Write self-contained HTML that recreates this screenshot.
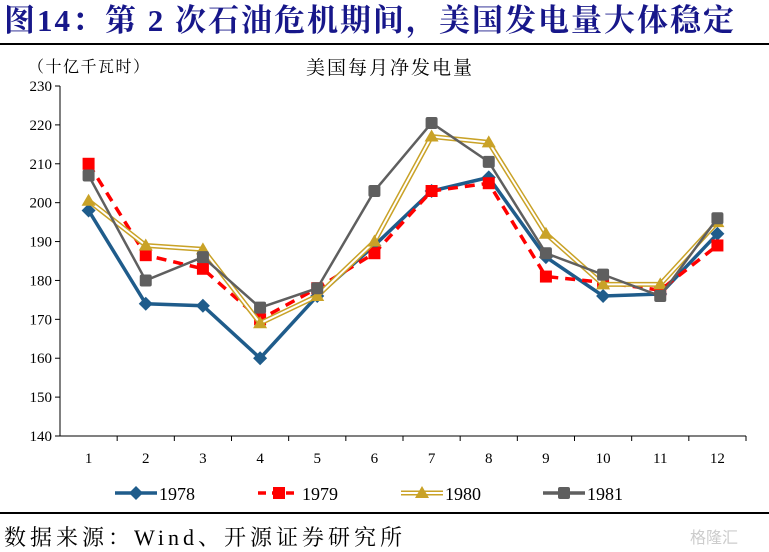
<!DOCTYPE html>
<html><head><meta charset="utf-8"><style>
body{margin:0;width:769px;height:552px;background:#fff;overflow:hidden;font-family:"Liberation Serif","Noto Serif CJK SC",serif;}
svg{position:absolute;left:0;top:0}
</style></head><body>
<svg id="chart" width="769" height="552" xmlns="http://www.w3.org/2000/svg">
<text x="4" y="31" font-size="31" font-weight="bold" fill="#17178a" letter-spacing="2" font-family="Liberation Serif,Noto Serif CJK SC,serif">图14：第 2 次石油危机期间，美国发电量大体稳定</text>
<line x1="0" y1="44" x2="769" y2="44" stroke="#000" stroke-width="2"/>
<text x="28" y="72" font-size="16" letter-spacing="1.5" fill="#000">（十亿千瓦时）</text>
<text x="390" y="74" font-size="19" letter-spacing="2" fill="#000" text-anchor="middle">美国每月净发电量</text>
<g id="plot"></g>
<line x1="0" y1="513" x2="769" y2="513" stroke="#000" stroke-width="2"/>
<text x="4" y="545" font-size="22" letter-spacing="4" fill="#000">数据来源：Wind、开源证券研究所</text>
<text x="690" y="543" font-size="16" fill="#ccc" font-family="Liberation Sans,Noto Sans CJK SC,sans-serif">格隆汇</text>
</svg>
<script>
const categories=["1","2","3","4","5","6","7","8","9","10","11","12"];
const yTicks=[140,150,160,170,180,190,200,210,220,230];
const s1978=[198,174,173.5,160,176,189,203,206.5,186,176,176.5,192];
const s1979=[210,186.5,183,170,178,187,203,205,181,179.5,177.5,189];
const s1980=[200.5,189,188,169,176,190,217,215.5,192,179,179,195];
const s1981=[207,180,186,173,178,203,220.5,210.5,187,181.5,176,196];
const seriesNames=["1978","1979","1980","1981"];
const NS="http://www.w3.org/2000/svg";
const g=document.getElementById('plot');
const L=60,R=746,T=86,B=436,ymin=140,ymax=230;
const bw=(R-L)/categories.length;
const X=i=>L+bw*(i+0.5);
const Y=v=>B-(v-ymin)/(ymax-ymin)*(B-T);
function mk(t,a){const e=document.createElementNS(NS,t);for(const k in a)e.setAttribute(k,a[k]);g.appendChild(e);return e;}
let ax=mk('line',{x1:L,y1:T,x2:L,y2:B,stroke:'#000','stroke-width':1});


let xa=mk('line',{x1:L,y1:B,x2:R,y2:B,stroke:'#000','stroke-width':1});


yTicks.forEach(v=>{
 let t=mk('line',{x1:L-5,y1:Y(v),x2:L,y2:Y(v),stroke:'#000'});
 
 
 let tx=mk('text',{x:L-8,y:Y(v)+5,'font-size':15,'text-anchor':'end'});
 tx.textContent=v;
 
 
});
categories.forEach((c,i)=>{
 let t=mk('line',{x1:L+bw*(i+1),y1:B,x2:L+bw*(i+1),y2:B+5,stroke:'#000'});
 
 
 let tx=mk('text',{x:X(i),y:B+27,'font-size':15,'text-anchor':'middle'});
 tx.textContent=c;
 
 
});
function pts(d){return d.map((v,i)=>X(i)+','+Y(v)).join(' ');}
function marker(type,x,y,color){
 let e;
 if(type==='diamond')e=mk('polygon',{points:`${x},${y-7} ${x+7},${y} ${x},${y+7} ${x-7},${y}`,fill:color});
 else if(type==='sq')e=mk('rect',{x:x-6,y:y-6,width:12,height:12,fill:color});
 else if(type==='tri')e=mk('polygon',{points:`${x},${y-7} ${x+7},${y+5} ${x-7},${y+5}`,fill:color});
 else e=mk('rect',{x:x-6,y:y-6,width:12,height:12,fill:color,rx:2});
 return e;
}
const cfg=[
 {d:s1978,c:'#1f5c8b',m:'diamond',dash:null},
 {d:s1979,c:'#ff0000',m:'sq',dash:'10,7'},
 {d:s1980,c:'#c9a227',m:'tri',dash:null,dbl:true},
 {d:s1981,c:'#5f5f5f',m:'sq2',dash:null}];
cfg.forEach((s,k)=>{
 let l=mk('polyline',{points:pts(s.d),fill:'none',stroke:s.c,'stroke-width':s.dbl?5:(k==3?2.5:3.5)});
 if(s.dash)l.setAttribute('stroke-dasharray',s.dash);
 
 
 if(s.dbl){let w=mk('polyline',{points:pts(s.d),fill:'none',stroke:'#fff','stroke-width':2});
  
  }
 s.d.forEach((v,i)=>{let m=marker(s.m,X(i),Y(v),s.c);
  
  });
 const lx=[115,258,401,543][k],ly=493;
 let ll=mk('line',{x1:lx,y1:ly,x2:lx+42,y2:ly,stroke:s.c,'stroke-width':s.dbl?5:3.5});
 if(s.dash)ll.setAttribute('stroke-dasharray','8,6');
 
 
 if(s.dbl){let w=mk('line',{x1:lx,y1:ly,x2:lx+42,y2:ly,stroke:'#fff','stroke-width':2});
  
  }
 let lm=marker(s.m,lx+21,ly,s.c);
 
 
 let lt=mk('text',{x:lx+44,y:ly+7,'font-size':18});
 lt.textContent=seriesNames[k];
 
 
});
</script>
</body></html>
